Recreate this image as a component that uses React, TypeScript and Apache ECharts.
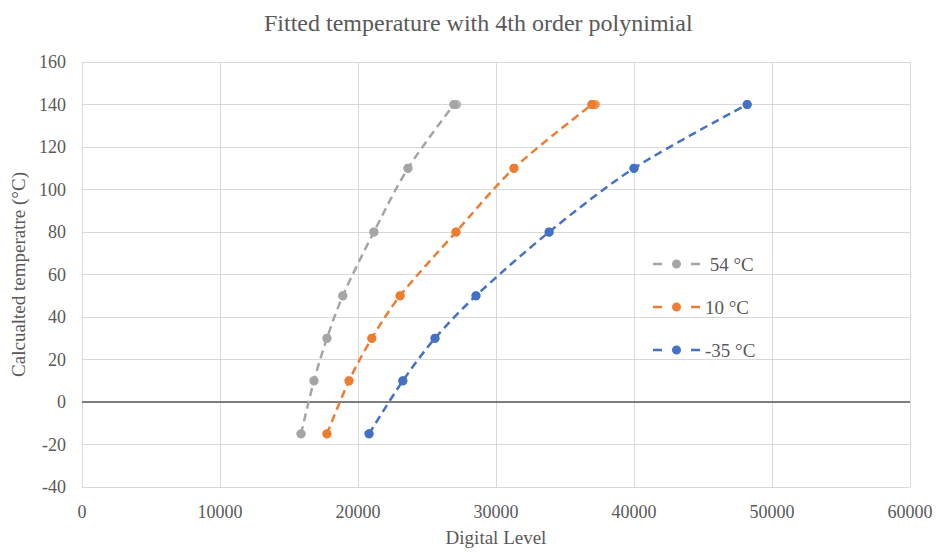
import React, { useEffect, useRef } from "react";
import * as echarts from "echarts";

const temps = [-15, 10, 30, 50, 80, 110, 140, 140];
const level54 = [15870, 16810, 17750, 18900, 21150, 23620, 26950, 27150];
const level10 = [17750, 19350, 21000, 23050, 27100, 31300, 36950, 37200];
const tempsBlue = [-15, 10, 30, 50, 80, 110, 140];
const levelM35 = [20800, 23250, 25580, 28550, 33850, 40000, 48200];

const seriesNames = [" 54 °C", "10 °C", "-35 °C"];
const colors = ["#A5A5A5", "#ED7D31", "#4472C4"];

const font = "'Liberation Serif', 'DejaVu Serif', serif";
const textColor = "#595959";

const legendIcon =
  "path://M0,3.25h9v2.5h-9z M38,3.25h9v2.5h-9z M19,4.5a4.5,4.5 0 1,0 9,0a4.5,4.5 0 1,0 -9,0z";

export default function App() {
  const ref = useRef<HTMLDivElement>(null);
  useEffect(() => {
    if (!ref.current) return;
    const chart = echarts.init(ref.current, undefined, { renderer: "svg" });
    const mk = (xs: number[], ys: number[]) => xs.map((x, i) => [x, ys[i]]);
    const datasets = [mk(level54, temps), mk(level10, temps), mk(levelM35, tempsBlue)];
    const curve = (d: number[][]) => d.filter((p, i) => i === 0 || p[1] !== d[i - 1][1]);
    chart.setOption({
      animation: false,
      backgroundColor: "#ffffff",
      textStyle: { fontFamily: font },
      title: {
        text: "Fitted temperature with 4th order polynimial",
        left: 259,
        top: 6,
        textStyle: { fontFamily: font, fontSize: 24, fontWeight: "normal", color: textColor },
      },
      grid: { left: 82, right: 26, top: 62, bottom: 65, containLabel: false },
      legend: {
        orient: "vertical",
        left: 653,
        top: 254,
        padding: 0,
        itemWidth: 47,
        itemHeight: 9,
        itemGap: 23,
        textStyle: { fontFamily: font, fontSize: 19, color: textColor, lineHeight: 20 },
        data: seriesNames.map((n) => ({ name: n, icon: legendIcon })),
      },
      xAxis: {
        type: "value",
        min: 0,
        max: 60000,
        interval: 10000,
        name: "Digital Level",
        nameLocation: "middle",
        nameGap: 41,
        nameTextStyle: { fontFamily: font, fontSize: 19, color: textColor },
        axisLine: { show: false },
        axisTick: { show: false },
        axisLabel: { fontFamily: font, fontSize: 18, color: textColor, margin: 16, formatter: (v: number) => String(v) },
        splitLine: { show: true, lineStyle: { color: "#D9D9D9", width: 1 } },
      },
      yAxis: {
        type: "value",
        min: -40,
        max: 160,
        interval: 20,
        name: "Calcualted temperatre (°C)",
        nameLocation: "middle",
        nameGap: 52,
        nameTextStyle: { fontFamily: font, fontSize: 19, color: textColor },
        axisLine: { show: false },
        axisTick: { show: false },
        axisLabel: { fontFamily: font, fontSize: 18, color: textColor, margin: 16 },
        splitLine: { show: true, lineStyle: { color: "#D9D9D9", width: 1 } },
      },
      series: [
        ...datasets.map((d, i) => ({
          name: seriesNames[i],
          type: "line",
          data: curve(d),
          smooth: 0.3,
          symbol: "circle",
          symbolSize: 9,
          itemStyle: { color: colors[i] },
          lineStyle: { color: colors[i], width: 2.5, type: [8, 5] },
          z: 3,
        })),
        ...datasets.map((d, i) => ({
          name: seriesNames[i] + " pts",
          type: "scatter",
          data: d,
          symbol: "circle",
          symbolSize: 9,
          itemStyle: { color: colors[i] },
          z: 4,
        })),
        {
          name: "zero",
          type: "line",
          data: [[0, 0], [60000, 0]],
          symbol: "none",
          lineStyle: { color: "#595959", width: 1.3 },
          silent: true,
          z: 2,
        },
      ],
    });
    return () => chart.dispose();
  }, []);
  return (
    <div
      ref={ref}
      style={{ position: "absolute", left: 0, top: 0, width: 936, height: 552 }}
    />
  );
}
